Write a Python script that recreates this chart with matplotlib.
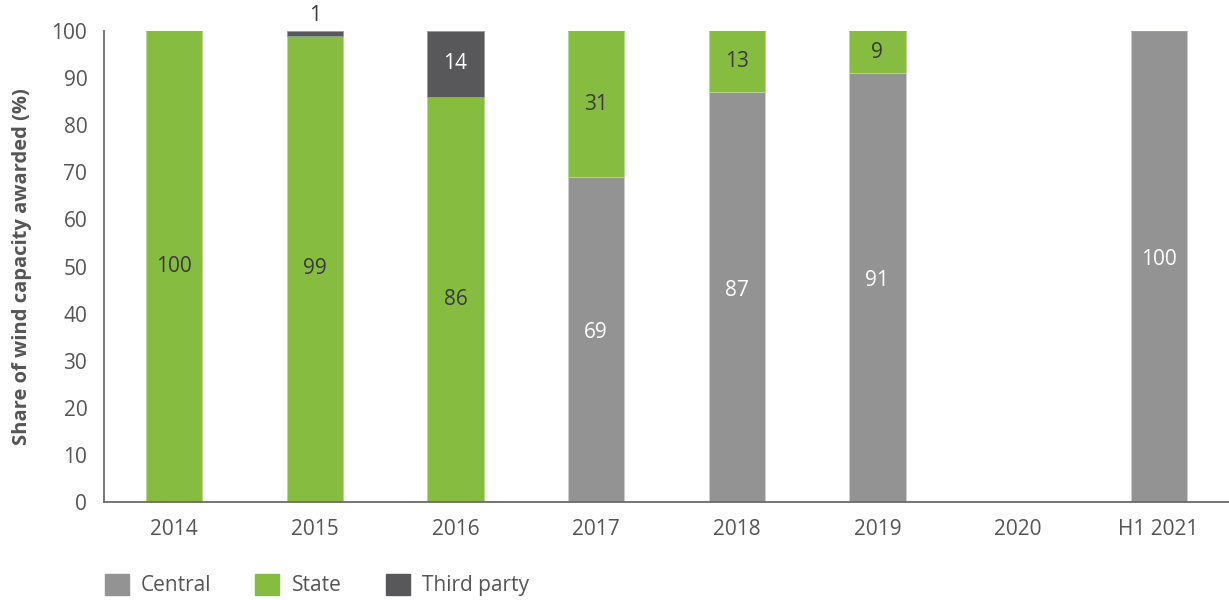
import numpy as np
import matplotlib.pyplot as plt
from matplotlib.patches import Patch

plt.rcParams['font.family'] = ['Open Sans', 'DejaVu Sans']

years = ['2014', '2015', '2016', '2017', '2018', '2019', '2020', 'H1 2021']
central = [0, 0, 0, 69, 87, 91, 0, 100]
state = [100, 99, 86, 31, 13, 9, 0, 0]
third_party = [0, 1, 14, 0, 0, 0, 0, 0]

c_central = '#939393'
c_state = '#86bc40'
c_third = '#58585a'
txt = '#555555'

fig = plt.figure(figsize=(12.29, 6), dpi=100)
ax = fig.add_axes([0.0846, 0.1633, 0.9154, 0.785])

x = np.arange(len(years))
w = 0.4
central = np.array(central)
state = np.array(state)
third_party = np.array(third_party)

ax.bar(x, central, w, color=c_central, edgecolor='#cfcfcf', linewidth=0.6)
ax.bar(x, state, w, bottom=central, color=c_state, edgecolor='#b5d98c', linewidth=0.6)
ax.bar(x, third_party, w, bottom=central + state, color=c_third, edgecolor='#9a9a9a', linewidth=0.6)

for i in range(len(years)):
    if central[i] > 0:
        ax.text(x[i], central[i] / 2 + 1.5, str(central[i]), ha='center', va='center',
                color='white', fontsize=15)
    if state[i] > 0:
        ax.text(x[i], central[i] + state[i] / 2, str(state[i]), ha='center', va='center',
                color='#3a3a3a', fontsize=15)
    if third_party[i] >= 5:
        ax.text(x[i], central[i] + state[i] + third_party[i] / 2, str(third_party[i]),
                ha='center', va='center', color='white', fontsize=15)
    elif third_party[i] > 0:
        ax.text(x[i], 101, str(third_party[i]), ha='center', va='bottom',
                color='#3a3a3a', fontsize=15)

ax.set_xlim(-0.5, len(years) - 0.5)
ax.set_ylim(0, 100)
ax.set_yticks(range(0, 101, 10))
ax.set_xticks(x)
ax.set_xticklabels(years)
ax.tick_params(length=0, labelsize=15, colors=txt)
ax.tick_params(axis='x', pad=12)
ax.tick_params(axis='y', pad=12)
for s in ['top', 'right']:
    ax.spines[s].set_visible(False)
for s in ['left', 'bottom']:
    ax.spines[s].set_color('#6b6b6b')
    ax.spines[s].set_linewidth(1.3)

ax.set_ylabel('Share of wind capacity awarded (%)', fontsize=14.5, fontweight='bold',
              color=txt, labelpad=14)

handles = [Patch(color=c_central, label='Central'),
           Patch(color=c_state, label='State'),
           Patch(color=c_third, label='Third party')]
fig.legend(handles=handles, loc='lower left', bbox_to_anchor=(0.07, -0.025), ncol=3,
           frameon=False, fontsize=15, handlelength=1.15, handleheight=1.15,
           columnspacing=2.1, handletextpad=0.6, labelcolor=txt)

fig.savefig('out.png', dpi=100)
